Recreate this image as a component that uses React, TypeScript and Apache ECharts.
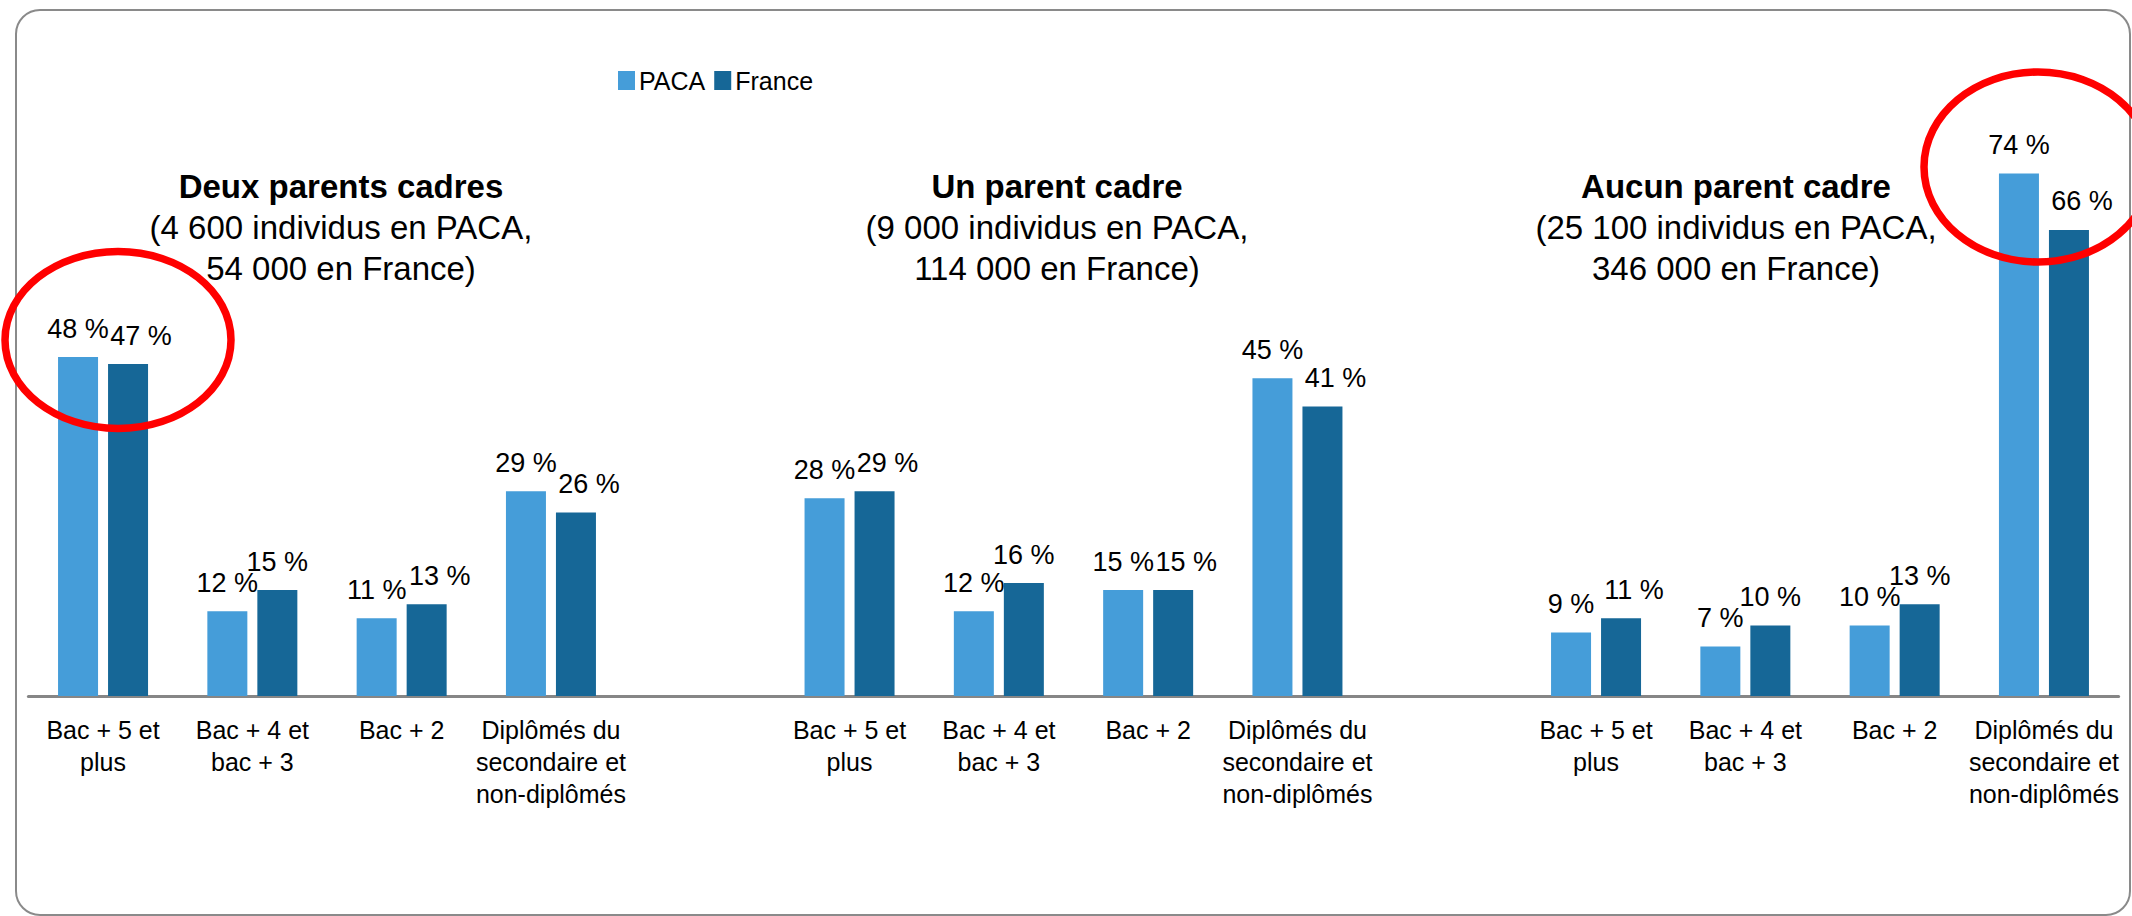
import React, { useEffect, useRef } from "react";
import * as echarts from "echarts";

const levels = [
  "Bac + 5 et\nplus",
  "Bac + 4 et\nbac + 3",
  "Bac + 2",
  "Diplômés du\nsecondaire et\nnon-diplômés",
];
const groupTitles = ["Deux parents cadres", "Un parent cadre", "Aucun parent cadre"];
const groupSubtitles = [
  "(4 600 individus en PACA,\n54 000 en France)",
  "(9 000 individus en PACA,\n114 000 en France)",
  "(25 100 individus en PACA,\n346 000 en France)",
];
const seriesNames = ["PACA", "France"];
const pacaDeuxParents = [48, 12, 11, 29];
const franceDeuxParents = [47, 15, 13, 26];
const pacaUnParent = [28, 12, 15, 45];
const franceUnParent = [29, 16, 15, 41];
const pacaAucunParent = [9, 7, 10, 74];
const franceAucunParent = [11, 10, 13, 66];

const pacaGroups = [pacaDeuxParents, pacaUnParent, pacaAucunParent];
const franceGroups = [franceDeuxParents, franceUnParent, franceAucunParent];

const FONT = "'Liberation Sans', Arial, Helvetica, sans-serif";
const PACA_COLOR = "#459DD9";
const FRANCE_COLOR = "#166797";
const TITLE_CENTERS = [341, 1057, 1736];

export default function App() {
  const ref = useRef<HTMLDivElement>(null);

  useEffect(() => {
    if (!ref.current) return;
    const chart = echarts.init(ref.current, undefined, { renderer: "svg" });

    const categories: string[] = [];
    const paca: any[] = [];
    const france: any[] = [];
    pacaGroups.forEach((pg, g) => {
      if (g > 0) {
        categories.push("");
        paca.push(null);
        france.push(null);
      }
      pg.forEach((v, i) => {
        const f = franceGroups[g][i];
        categories.push(levels[i]);
        paca.push(v);
        const shift = f - v < 3 ? 13 : 0;
        france.push({ value: f, label: { offset: [shift, 0] } });
      });
    });

    const labelStyle = {
      show: true,
      position: "top",
      distance: 15,
      formatter: "{c} %",
      fontSize: 27,
      lineHeight: 27,
      color: "#000",
      fontFamily: FONT,
    };

    const graphics: any[] = [
      {
        type: "rect",
        shape: { x: 16, y: 10, width: 2114, height: 905, r: 24 },
        style: { fill: "none", stroke: "#8a8a8a", lineWidth: 2 },
        z: 0,
      },
    ];
    groupTitles.forEach((t, g) => {
      const sub = groupSubtitles[g]
        .split("\n")
        .map((s) => "{n|" + s + "}")
        .join("\n");
      graphics.push({
        type: "text",
        x: TITLE_CENTERS[g],
        y: 166,
        z: 5,
        style: {
          text: "{b|" + t + "}\n" + sub,
          align: "center",
          verticalAlign: "top",
          fill: "#000",
          rich: {
            b: { fontSize: 33, fontWeight: "bold", lineHeight: 41, fontFamily: FONT, fill: "#000" },
            n: { fontSize: 33, lineHeight: 41, fontFamily: FONT, fill: "#000" },
          },
        },
      });
    });
    graphics.push({
      type: "ellipse",
      shape: { cx: 118, cy: 340, rx: 113, ry: 88.5 },
      style: { fill: "none", stroke: "#FF0000", lineWidth: 7.5 },
      z: 10,
    });
    graphics.push({
      type: "ellipse",
      shape: { cx: 2038, cy: 167, rx: 114, ry: 95 },
      style: { fill: "none", stroke: "#FF0000", lineWidth: 7.5 },
      z: 10,
    });

    chart.setOption({
      animation: false,
      backgroundColor: "#fff",
      textStyle: { fontFamily: FONT },
      legend: {
        data: seriesNames,
        left: 618,
        top: 68,
        padding: 0,
        itemWidth: 17,
        itemHeight: 19,
        itemGap: 9,
        icon: "rect",
        textStyle: { fontSize: 25, color: "#000", fontFamily: FONT, padding: [0, 0, 0, -1] },
      },
      grid: { left: 28.4, right: 13.4, top: 131, bottom: 220 },
      xAxis: {
        type: "category",
        data: categories,
        axisLine: { show: true, lineStyle: { color: "#868686", width: 3 } },
        axisTick: { show: false },
        axisLabel: {
          interval: 0,
          margin: 18,
          fontSize: 25,
          lineHeight: 32,
          color: "#000",
          fontFamily: FONT,
        },
      },
      yAxis: {
        type: "value",
        min: 0,
        max: 80,
        show: false,
        splitLine: { show: false },
      },
      series: [
        {
          name: seriesNames[0],
          type: "bar",
          data: paca,
          barWidth: 40,
          barGap: "25%",
          itemStyle: { color: PACA_COLOR },
          label: labelStyle,
        },
        {
          name: seriesNames[1],
          type: "bar",
          data: france,
          barWidth: 40,
          barGap: "25%",
          itemStyle: { color: FRANCE_COLOR },
          label: labelStyle,
        },
      ],
      graphic: graphics,
    });

    return () => chart.dispose();
  }, []);

  return (
    <div
      ref={ref}
      style={{ position: "absolute", left: 0, top: 0, width: 2132, height: 916 }}
    />
  );
}
